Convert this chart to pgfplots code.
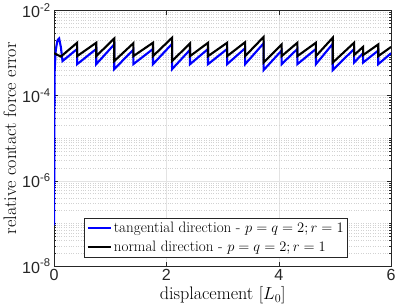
\documentclass[border=0pt]{standalone}
\usepackage{fontspec}
\usepackage{pgfplots}
\pgfplotsset{compat=1.18}
\newfontfamily\hel{Liberation Sans}
\definecolor{axgray}{rgb}{0.15,0.15,0.15}
\begin{document}
\begin{tikzpicture}
\begin{axis}[
 scale only axis, width=335pt, height=254pt,
 ymode=log, xmin=0, xmax=6, ymin=1e-8, ymax=1e-2,
 xtick={0,2,4,6},
 xticklabels={{\hel 0},{\hel 2},{\hel 4},{\hel 6}},
 ytick={1e-8,1e-6,1e-4,1e-2},
 yticklabels={{\hel 10\textsuperscript{-8}},{\hel 10\textsuperscript{-6}},{\hel 10\textsuperscript{-4}},{\hel 10\textsuperscript{-2}}},
 minor ytick={2e-8,3e-8,4e-8,5e-8,6e-8,7e-8,8e-8,9e-8,1e-7,2e-7,3e-7,4e-7,5e-7,6e-7,7e-7,8e-7,9e-7,
  2e-6,3e-6,4e-6,5e-6,6e-6,7e-6,8e-6,9e-6,1e-5,2e-5,3e-5,4e-5,5e-5,6e-5,7e-5,8e-5,9e-5,
  2e-4,3e-4,4e-4,5e-4,6e-4,7e-4,8e-4,9e-4,1e-3,2e-3,3e-3,4e-3,5e-3,6e-3,7e-3,8e-3,9e-3},
 grid=both,
 major grid style={gray!22, line width=0.5pt},
 minor grid style={dotted, gray!35, line width=0.5pt},
 tick align=inside, major tick length=4pt, minor tick length=2.2pt,
 tick style={axgray, line width=0.5pt},
 axis line style={axgray, line width=0.6pt},
 xlabel={displacement $[L_0]$},
 ylabel={relative contact force error},
 label style={font=\fontsize{18}{20}\selectfont, text=black},
 ticklabel style={font=\fontsize{16}{18}\selectfont, text=axgray},
 xlabel style={yshift=1pt},
 ylabel style={yshift=-1pt},
 legend style={at={(0.09,0.035)}, anchor=south west, draw=axgray, line width=0.5pt,
   font=\fontsize{15}{17}\selectfont, fill=white, inner sep=2pt, row sep=2.5pt},
 legend cell align=left,
 legend image code/.code={\draw[#1, line width=2pt] (0pt,0pt) -- (23pt,0pt);},
]
\addplot[blue, line width=2.1pt] coordinates {
(0,9e-8) (0.004,2e-5) (0.01,4e-4) (0.03,1.2e-3) (0.06,2.0e-3) (0.09,2.2e-3) (0.12,1.4e-3) (0.15,6.5e-4)
(0.41,1.25e-3) (0.41,5.5e-4)
(0.75,1.25e-3) (0.75,5.5e-4)
(1.07,1.6e-3) (1.07,4.2e-4)
(1.41,1.2e-3) (1.41,5.5e-4)
(1.76,1.25e-3) (1.76,5.5e-4)
(2.10,1.65e-3) (2.10,4.2e-4)
(2.42,1.2e-3) (2.42,5.5e-4)
(2.74,1.25e-3) (2.74,5.5e-4)
(3.08,1.25e-3) (3.08,5.5e-4)
(3.40,1.3e-3) (3.40,5.5e-4)
(3.73,1.7e-3) (3.73,4.0e-4)
(4.05,1.15e-3) (4.05,5.5e-4)
(4.33,1.25e-3) (4.33,5.5e-4)
(4.66,1.25e-3) (4.66,5.5e-4)
(4.96,1.65e-3) (4.96,4.0e-4)
(5.34,1.25e-3) (5.34,6.0e-4)
(5.50,1.0e-3) (5.50,6.0e-4)
(5.77,1.15e-3) (5.77,5.5e-4)
(6.0,1.0e-3)
};
\addlegendentry{tangential direction - $p=q=2; r=1$}
\addplot[black, line width=2.1pt] coordinates {
(0,1.0e-3) (0.05,9.2e-4) (0.12,8.3e-4)
(0.41,1.75e-3) (0.41,8.5e-4)
(0.75,1.75e-3) (0.75,8.5e-4)
(1.07,2.2e-3) (1.07,6.5e-4)
(1.41,1.7e-3) (1.41,8.5e-4)
(1.76,1.75e-3) (1.76,8.5e-4)
(2.10,2.3e-3) (2.10,6.5e-4)
(2.42,1.7e-3) (2.42,8.5e-4)
(2.74,1.75e-3) (2.74,8.5e-4)
(3.08,1.75e-3) (3.08,8.5e-4)
(3.40,1.8e-3) (3.40,8.5e-4)
(3.73,2.4e-3) (3.73,6.0e-4)
(4.05,1.6e-3) (4.05,8.5e-4)
(4.33,1.75e-3) (4.33,8.5e-4)
(4.66,1.75e-3) (4.66,8.5e-4)
(4.96,2.3e-3) (4.96,6.0e-4)
(5.34,1.75e-3) (5.34,9.0e-4)
(5.50,1.4e-3) (5.50,9.0e-4)
(5.77,1.6e-3) (5.77,8.5e-4)
(6.0,1.4e-3)
};
\addlegendentry{normal direction - $p=q=2; r=1$}
\end{axis}
\end{tikzpicture}
\end{document}
